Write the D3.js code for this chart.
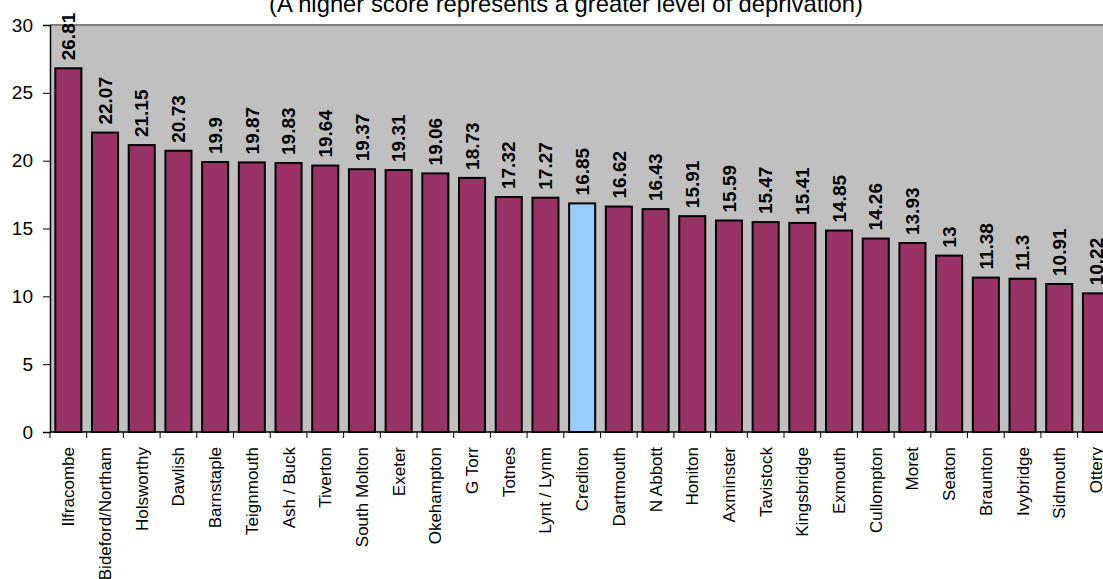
<!DOCTYPE html>
<html>
<head>
<meta charset="utf-8">
<script src="https://cdn.jsdelivr.net/npm/d3@7"></script>
<style>
  body { margin: 0; background: #fff; overflow: hidden; }
  text { font-family: Arial, "Liberation Sans", sans-serif; }
</style>
</head>
<body>
<svg id="chart" width="1103" height="579"></svg>
<script>
// Areas, ordered by score
const towns = ['Ilfracombe', 'Bideford/Northam', 'Holsworthy', 'Dawlish', 'Barnstaple', 'Teignmouth',
    'Ash / Buck', 'Tiverton', 'South Molton', 'Exeter', 'Okehampton', 'G Torr', 'Totnes', 'Lynt / Lynm',
    'Crediton', 'Dartmouth', 'N Abbott', 'Honiton', 'Axminster', 'Tavistock', 'Kingsbridge', 'Exmouth',
    'Cullompton', 'Moret', 'Seaton', 'Braunton', 'Ivybridge', 'Sidmouth', 'Ottery'];
const scores = [26.81, 22.07, 21.15, 20.73, 19.9, 19.87, 19.83, 19.64, 19.37, 19.31, 19.06, 18.73, 17.32, 17.27,
    16.85, 16.62, 16.43, 15.91, 15.59, 15.47, 15.41, 14.85, 14.26, 13.93, 13, 11.38, 11.3, 10.91, 10.22];
const yTicks = [0, 5, 10, 15, 20, 25, 30];
const highlight = 'Crediton';
const subtitle = '(A higher score represents a greater level of deprivation)';

const data = towns.map((t, i) => ({ town: t, score: scores[i] }));

const svg = d3.select('#chart');
const plotLeft = 50, plotTop = 25, plotBottom = 432;
const step = 36.7;
const plotRight = plotLeft + towns.length * step;

const x = d3.scaleBand()
    .domain(towns)
    .range([plotLeft, plotRight])
    .paddingInner(0.29)
    .paddingOuter(0.145);

const y = d3.scaleLinear()
    .domain([0, 30])
    .range([plotBottom, plotTop]);

// title (first line is outside the picture)
svg.append('text')
    .attr('x', 566)
    .attr('y', 12)
    .attr('text-anchor', 'middle')
    .attr('font-size', 23.8)
    .text(subtitle);

// plot background
svg.append('rect')
    .attr('x', plotLeft)
    .attr('y', plotTop)
    .attr('width', plotRight - plotLeft + 40)
    .attr('height', plotBottom - plotTop)
    .attr('fill', '#c0c0c0');

svg.append('line')
    .attr('x1', plotLeft).attr('x2', plotRight + 40)
    .attr('y1', plotTop).attr('y2', plotTop)
    .attr('stroke', '#808080')
    .attr('stroke-width', 2);

// bars
svg.selectAll('rect.bar')
    .data(data)
    .enter()
    .append('rect')
    .attr('class', 'bar')
    .attr('x', d => x(d.town))
    .attr('y', d => y(d.score))
    .attr('width', x.bandwidth())
    .attr('height', d => y(0) - y(d.score))
    .attr('fill', d => d.town === highlight ? '#99ccff' : '#993366')
    .attr('stroke', '#000')
    .attr('stroke-width', 2);

// value labels
svg.selectAll('text.val')
    .data(data)
    .enter()
    .append('text')
    .attr('class', 'val')
    .attr('transform', d => 'translate(' + (x(d.town) + x.bandwidth() / 2) + ',' + (y(d.score) - 8) + ') rotate(-90)')
    .attr('dy', '0.35em')
    .attr('font-size', 19)
    .attr('font-weight', 'bold')
    .text(d => d.score);

// y axis
const yAxis = svg.append('g')
    .attr('transform', 'translate(' + plotLeft + ',0)')
    .call(d3.axisLeft(y).tickValues(yTicks).tickSize(7).tickPadding(10));
yAxis.selectAll('text').attr('font-size', 19).attr('font-family', 'Arial, "Liberation Sans", sans-serif').attr('fill', '#000');
yAxis.select('.domain').attr('stroke', '#000').attr('stroke-width', 1.5);
yAxis.selectAll('.tick line').attr('stroke', '#000');

// x axis line and ticks at band edges
svg.append('line')
    .attr('x1', plotLeft).attr('x2', plotRight + 40)
    .attr('y1', plotBottom).attr('y2', plotBottom)
    .attr('stroke', '#000')
    .attr('stroke-width', 1.5);

svg.selectAll('line.xtick')
    .data(d3.range(towns.length + 1))
    .enter()
    .append('line')
    .attr('class', 'xtick')
    .attr('x1', i => plotLeft + i * x.step())
    .attr('x2', i => plotLeft + i * x.step())
    .attr('y1', plotBottom)
    .attr('y2', plotBottom + 6)
    .attr('stroke', '#000');

svg.selectAll('text.cat')
    .data(towns)
    .enter()
    .append('text')
    .attr('class', 'cat')
    .attr('transform', d => 'translate(' + (x(d) + x.bandwidth() / 2) + ',' + (plotBottom + 15) + ') rotate(-90)')
    .attr('text-anchor', 'end')
    .attr('dy', '0.35em')
    .attr('font-size', 17)
    .text(d => d);
</script>
</body>
</html>
